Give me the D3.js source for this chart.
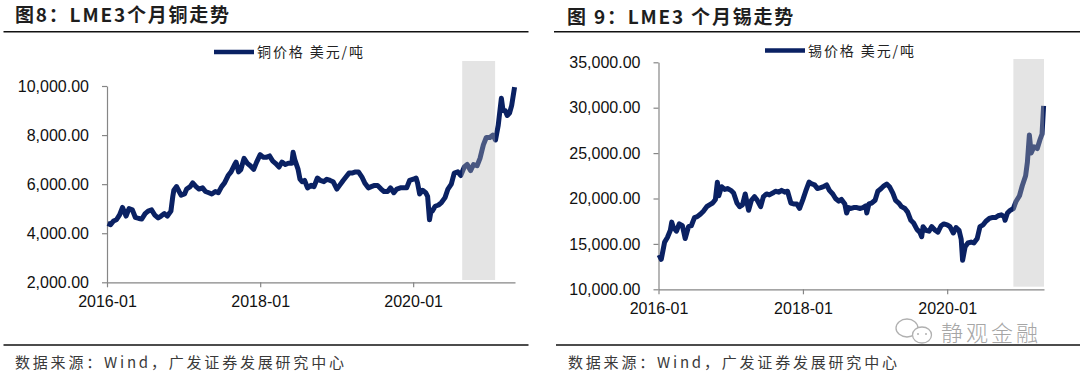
<!DOCTYPE html>
<html>
<head>
<meta charset="utf-8">
<script src="https://cdn.jsdelivr.net/npm/d3@7"></script>
<style>
body { margin: 0; background: #fff; }
svg { display: block; }
</style>
</head>
<body>
<svg id="chart" width="1080" height="377"></svg>
<script>
// LME 3M copper, USD/t (about two points a month)
const copper = [
  ["2016-01-04",4400],["2016-01-18",4350],["2016-02-01",4500],["2016-02-15",4550],["2016-03-01",4750],
  ["2016-03-15",5050],["2016-04-01",4700],["2016-04-15",5000],["2016-05-01",4950],["2016-05-15",4650],
  ["2016-06-01",4600],["2016-06-15",4580],["2016-07-01",4800],["2016-07-15",4900],["2016-08-01",4950],
  ["2016-08-15",4750],["2016-09-01",4620],["2016-09-15",4700],["2016-10-01",4800],["2016-10-15",4700],
  ["2016-11-01",4900],["2016-11-10",5500],["2016-11-15",5750],["2016-11-28",5900],["2016-12-10",5700],
  ["2016-12-20",5550],["2017-01-05",5600],["2017-01-15",5800],["2017-02-01",5900],["2017-02-13",6050],
  ["2017-03-01",5900],["2017-03-15",5800],["2017-04-01",5850],["2017-04-15",5700],["2017-05-01",5650],
  ["2017-05-15",5600],["2017-06-01",5700],["2017-06-15",5650],["2017-07-01",5900],["2017-07-15",6050],
  ["2017-08-01",6350],["2017-08-15",6500],["2017-09-01",6800],["2017-09-08",6900],["2017-09-20",6500],
  ["2017-10-01",6600],["2017-10-16",7050],["2017-11-01",6850],["2017-11-15",6750],["2017-12-01",6600],
  ["2017-12-15",6900],["2018-01-01",7200],["2018-01-15",7100],["2018-02-01",7100],["2018-02-15",7150],
  ["2018-03-01",6950],["2018-03-15",6850],["2018-04-01",6700],["2018-04-15",6900],["2018-05-01",6800],
  ["2018-05-15",6850],["2018-06-01",6850],["2018-06-07",7300],["2018-06-15",7000],["2018-07-01",6600],
  ["2018-07-10",6200],["2018-07-20",6100],["2018-08-01",6150],["2018-08-15",5850],["2018-09-01",5950],
  ["2018-09-15",5900],["2018-10-01",6250],["2018-10-15",6150],["2018-11-01",6100],["2018-11-15",6200],
  ["2018-12-01",6150],["2018-12-15",6100],["2019-01-02",5800],["2019-01-15",5950],["2019-02-01",6150],
  ["2019-02-15",6300],["2019-03-01",6450],["2019-03-15",6450],["2019-04-01",6500],["2019-04-15",6500],
  ["2019-05-01",6300],["2019-05-15",6050],["2019-06-01",5850],["2019-06-15",5900],["2019-07-01",5950],
  ["2019-07-15",5950],["2019-08-01",5800],["2019-08-15",5700],["2019-09-01",5700],["2019-09-15",5850],
  ["2019-10-01",5650],["2019-10-15",5800],["2019-11-01",5850],["2019-11-15",5850],["2019-12-01",5850],
  ["2019-12-15",6150],["2020-01-02",6200],["2020-01-15",6250],["2020-01-22",6050],["2020-02-01",5600],
  ["2020-02-15",5750],["2020-03-01",5650],["2020-03-10",5500],["2020-03-19",4550],["2020-03-25",4850],
  ["2020-04-01",4900],["2020-04-15",5100],["2020-05-01",5150],["2020-05-15",5250],["2020-06-01",5450],
  ["2020-06-15",5800],["2020-07-01",6000],["2020-07-15",6450],["2020-08-01",6500],["2020-08-15",6350],
  ["2020-09-01",6700],["2020-09-15",6800],["2020-10-01",6550],["2020-10-15",6800],["2020-11-01",6750],
  ["2020-11-15",7050],["2020-12-01",7600],["2020-12-15",7900],["2021-01-01",7900],["2021-01-15",8000],
  ["2021-01-28",7800],["2021-02-10",8400],["2021-02-25",9500],["2021-03-05",9000],["2021-03-15",9000],
  ["2021-03-25",8800],["2021-04-05",8900],["2021-04-15",9200],["2021-04-29",9950]
]

// LME 3M tin, USD/t
const tin = [
  ["2016-01-04",13800],["2016-01-15",13300],["2016-02-01",15200],["2016-02-15",15700],["2016-03-01",16500],
  ["2016-03-08",17400],["2016-03-15",16900],["2016-04-01",16400],["2016-04-15",17200],["2016-05-01",17000],
  ["2016-05-15",15600],["2016-06-01",16900],["2016-06-15",17000],["2016-07-01",17900],["2016-07-15",18000],
  ["2016-08-01",18300],["2016-08-15",18600],["2016-09-01",19100],["2016-09-15",19300],["2016-10-01",19500],
  ["2016-10-15",19900],["2016-10-25",21800],["2016-11-01",20300],["2016-11-15",21300],["2016-12-01",21000],
  ["2016-12-15",21100],["2017-01-01",20900],["2017-01-15",20600],["2017-02-01",19500],["2017-02-15",19100],
  ["2017-03-01",19300],["2017-03-15",20500],["2017-04-01",18700],["2017-04-15",19800],["2017-05-01",20200],
  ["2017-05-15",19800],["2017-06-01",19100],["2017-06-15",20200],["2017-07-01",20500],["2017-07-15",20400],
  ["2017-08-01",20600],["2017-08-15",20800],["2017-09-01",20700],["2017-09-15",20900],["2017-10-01",20700],
  ["2017-10-15",20800],["2017-11-01",19500],["2017-11-15",19400],["2017-12-01",19400],["2017-12-15",18900],
  ["2018-01-01",19900],["2018-01-15",20800],["2018-02-01",21800],["2018-02-15",21600],["2018-03-01",21500],
  ["2018-03-15",21100],["2018-04-01",21200],["2018-04-15",21300],["2018-05-01",21500],["2018-05-15",20900],
  ["2018-06-01",20500],["2018-06-15",20000],["2018-07-01",19700],["2018-07-15",19900],["2018-08-01",19400],
  ["2018-08-10",18400],["2018-08-20",19000],["2018-09-01",18900],["2018-09-15",19000],["2018-10-01",19000],
  ["2018-10-15",18900],["2018-11-01",19000],["2018-11-15",19200],["2018-11-20",18400],["2018-12-01",19400],
  ["2018-12-15",19500],["2019-01-01",19800],["2019-01-15",20800],["2019-02-01",21100],["2019-02-15",21400],
  ["2019-03-01",21600],["2019-03-15",21300],["2019-04-01",20600],["2019-04-15",19800],["2019-05-01",19500],
  ["2019-05-15",19100],["2019-06-01",18900],["2019-06-15",18500],["2019-07-01",17600],["2019-07-15",17300],
  ["2019-08-01",16600],["2019-08-15",16300],["2019-08-25",15800],["2019-09-01",16900],["2019-09-15",16500],
  ["2019-10-01",16400],["2019-10-15",16900],["2019-11-01",16500],["2019-11-15",16300],["2019-12-01",17000],
  ["2019-12-15",17200],["2020-01-01",17100],["2020-01-15",16900],["2020-02-01",16200],["2020-02-15",16800],
  ["2020-03-01",16500],["2020-03-12",15500],["2020-03-19",13200],["2020-04-01",14700],["2020-04-15",15100],
  ["2020-05-01",15200],["2020-05-15",15100],["2020-06-01",15600],["2020-06-15",16900],["2020-07-01",17100],
  ["2020-07-15",17500],["2020-08-01",17800],["2020-08-15",17900],["2020-09-01",17900],["2020-09-15",18100],
  ["2020-10-01",18200],["2020-10-15",18000],["2020-10-20",17600],["2020-11-01",18400],["2020-11-15",18700],
  ["2020-12-01",18900],["2020-12-15",19700],["2021-01-01",20300],["2021-01-15",21400],["2021-02-01",22500],
  ["2021-02-10",24000],["2021-02-20",27000],["2021-03-01",25000],["2021-03-15",25700],["2021-04-01",25500],
  ["2021-04-15",26500],["2021-04-25",27100],["2021-05-03",30200]
]

const cuTicks = [2000, 4000, 6000, 8000, 10000]
const snTicks = [10000, 15000, 20000, 25000, 30000, 35000]
const xTickDates = ["2016-01-01", "2018-01-01", "2020-01-01"]
const cuShade = ["2020-08-22", "2021-01-26"]
const snShade = ["2020-12-01", "2021-05-05"]

const parse = d3.timeParse("%Y-%m-%d")
const fmtY = d3.format(",.2f")
const fmtX = d3.timeFormat("%Y-%m")
const svg = d3.select("#chart")

const navy = "#0a2163"
const cjk = "'Noto Sans CJK SC', 'Noto Sans', sans-serif"
const latin = "'Liberation Sans', Arial, sans-serif"

function panel(cfg) {
    let g = svg.append("g")

    // title + rule
    g.append("text")
        .attr("x", cfg.titleX).attr("y", cfg.titleY)
        .style("font-family", cjk).style("font-weight", "bold")
        .style("font-size", "19px").style("letter-spacing", "1.8px")
        .style("fill", "#1e1e1e")
        .text(cfg.title)
    g.append("line")
        .attr("x1", cfg.ruleX1).attr("x2", cfg.ruleX2)
        .attr("y1", 31.7).attr("y2", 31.7)
        .style("stroke", "#111").style("stroke-width", 1.5)

    // footer
    g.append("line")
        .attr("x1", cfg.footX1).attr("x2", cfg.ruleX2)
        .attr("y1", 345).attr("y2", 345)
        .style("stroke", "#111").style("stroke-width", 1.5)
    g.append("text")
        .attr("x", cfg.footTextX).attr("y", 368)
        .style("font-family", cjk).style("font-size", "15px")
        .style("letter-spacing", "2.8px").style("fill", "#3a3a3a")
        .text("数据来源：Wind，广发证券发展研究中心")

    // scales
    let data = cfg.data.map(d => [parse(d[0]), d[1]])
    let x = d3.scaleTime()
        .domain([parse("2016-01-01"), parse(cfg.endDate)])
        .range([cfg.left, cfg.right])
    let y = d3.scaleLinear()
        .domain([cfg.ticks[0], cfg.ticks[cfg.ticks.length - 1]])
        .range([cfg.bottom, cfg.top])

    // axes
    let gy = g.append("g").attr("transform", "translate(" + cfg.left + ",0)")
    d3.axisLeft(y).tickValues(cfg.ticks).tickFormat(fmtY)
        .tickSize(5).tickSizeOuter(0).tickPadding(13)(gy)
    let gx = g.append("g").attr("transform", "translate(0," + cfg.bottom + ")")
    d3.axisBottom(x).tickValues(xTickDates.map(parse)).tickFormat(fmtX)
        .tickSize(5).tickSizeOuter(0).tickPadding(8.5)(gx)
    g.selectAll(".domain, .tick line").style("stroke", "#868686").style("stroke-width", 1.2)
    g.selectAll(".tick text")
        .style("font-family", latin).style("font-size", "16px").style("fill", "#111")

    // line
    let line = d3.line().x(d => x(d[0])).y(d => y(d[1]))
    g.append("path").datum(data)
        .attr("d", line)
        .style("fill", "none").style("stroke", navy)
        .style("stroke-width", 5).style("stroke-linejoin", "round")

    // shaded period, drawn on top of the line
    g.append("rect")
        .attr("x", x(parse(cfg.shade[0])))
        .attr("width", x(parse(cfg.shade[1])) - x(parse(cfg.shade[0])))
        .attr("y", cfg.shadeTop).attr("height", cfg.shadeBottom - cfg.shadeTop)
        .style("fill", "#b6b6b6").style("fill-opacity", 0.37)

    // legend
    g.append("line")
        .attr("x1", cfg.legX).attr("x2", cfg.legX + 40)
        .attr("y1", cfg.legY).attr("y2", cfg.legY)
        .style("stroke", navy).style("stroke-width", 4.5)
    g.append("text")
        .attr("x", cfg.legX + 43).attr("y", cfg.legY + 5)
        .style("font-family", cjk).style("font-size", "14px")
        .style("letter-spacing", "1.9px").style("fill", "#222")
        .text(cfg.legend)
}

panel({
    data: copper, ticks: cuTicks, shade: cuShade, endDate: "2021-05-01",
    title: "图8：LME3个月铜走势", titleX: 15, titleY: 22,
    legend: "铜价格 美元/吨", legX: 214, legY: 52,
    left: 107, right: 515, top: 86, bottom: 282.3,
    shadeTop: 61, shadeBottom: 280,
    ruleX1: 3.5, ruleX2: 528.5, footX1: 3.5, footTextX: 15
})

panel({
    data: tin, ticks: snTicks, shade: snShade, endDate: "2021-05-05",
    title: "图 9：LME3 个月锡走势", titleX: 567, titleY: 24,
    legend: "锡价格 美元/吨", legX: 765, legY: 50.5,
    left: 658.5, right: 1044, top: 62.3, bottom: 289.3,
    shadeTop: 59, shadeBottom: 286.7,
    ruleX1: 554, ruleX2: 1080, footX1: 556, footTextX: 568
})

// watermark: wechat bubbles + account name
let wm = svg.append("g").style("fill", "#fff").style("stroke", "#b0b0b0").style("stroke-width", 1.3)
wm.append("ellipse").attr("cx", 907).attr("cy", 328).attr("rx", 11).attr("ry", 9)
wm.append("ellipse").attr("cx", 922).attr("cy", 335).attr("rx", 9.5).attr("ry", 8)
wm.selectAll("circle").data([[918, 334], [926, 334]]).join("circle")
    .attr("cx", d => d[0]).attr("cy", d => d[1]).attr("r", 1)
    .style("fill", "#b0b0b0").style("stroke", "none")
svg.append("text")
    .attr("x", 941).attr("y", 341)
    .style("font-family", cjk).style("font-size", "22px").style("font-weight", 300)
    .style("letter-spacing", "3px").style("fill", "#a6a6a6")
    .text("静观金融")
</script>
</body>
</html>
